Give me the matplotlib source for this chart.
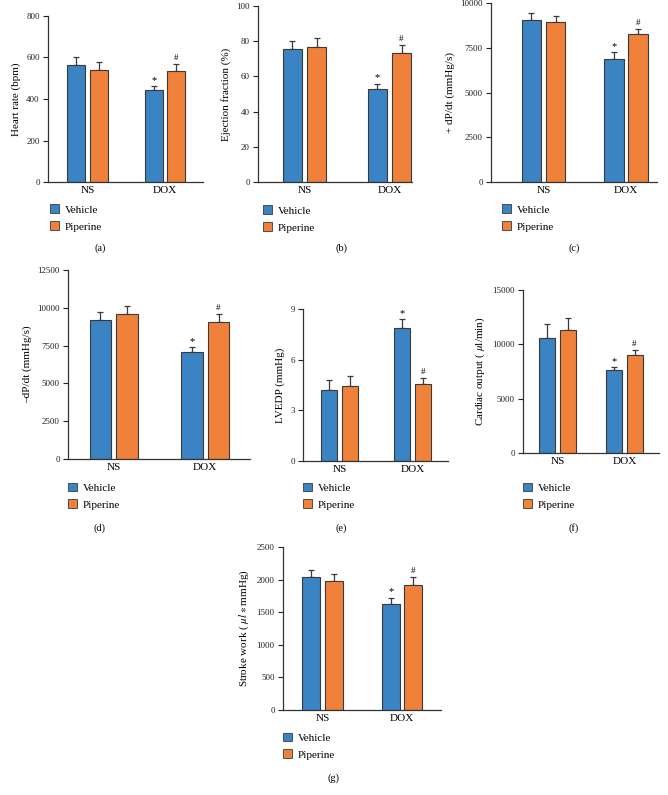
import numpy as np
import matplotlib
matplotlib.use("Agg")
import matplotlib.pyplot as plt
from matplotlib.patches import Patch

plt.rcParams['font.family'] = ['Liberation Serif', 'DejaVu Serif']
plt.rcParams['mathtext.fontset'] = 'stix'

W, H = 668, 795

groups = ['NS', 'DOX']
series = ['Vehicle', 'Piperine']
colors = ['#3a84c4', '#f0813b']
edge = '#3a3a3a'

# valores (media, error)
hr_veh = [562, 441]
hr_veh_err = [38, 21]
hr_pip = [542, 533]
hr_pip_err = [34, 37]

ef_veh = [75.8, 52.8]
ef_veh_err = [4.5, 2.9]
ef_pip = [76.9, 73.5]
ef_pip_err = [5.1, 4.2]

dpp_veh = [9050, 6870]
dpp_veh_err = [390, 390]
dpp_pip = [8940, 8280]
dpp_pip_err = [350, 260]

dpm_veh = [9220, 7090]
dpm_veh_err = [530, 290]
dpm_pip = [9570, 9070]
dpm_pip_err = [570, 510]

lv_veh = [4.18, 7.88]
lv_veh_err = [0.59, 0.51]
lv_pip = [4.42, 4.54]
lv_pip_err = [0.63, 0.35]

co_veh = [10590, 7680]
co_veh_err = [1290, 210]
co_pip = [11360, 9060]
co_pip_err = [1040, 400]

sw_veh = [2040, 1631]
sw_veh_err = [112, 92]
sw_pip = [1978, 1917]
sw_pip_err = [108, 118]

# (caja en px: izq, der, arriba, abajo), xlim, ancho barra, ticks, etiqueta
paneles = [
    dict(box=(48, 203, 16, 182), xlim=(-0.51, 1.49), w=0.23, ticks=np.arange(0, 801, 200),
         ylabel='Heart rate (bpm)', data=(hr_veh, hr_veh_err, hr_pip, hr_pip_err),
         leg=(50, 210), tag='(a)', tagpos=(100, 248)),
    dict(box=(258, 412, 6, 182), xlim=(-0.547, 1.265), w=0.224, ticks=np.arange(0, 101, 20),
         ylabel='Ejection fraction (%)', data=(ef_veh, ef_veh_err, ef_pip, ef_pip_err),
         leg=(263, 211), tag='(b)', tagpos=(341, 248)),
    dict(box=(491, 657, 3, 182), xlim=(-0.636, 1.376), w=0.236, ticks=np.arange(0, 10001, 2500),
         ylabel='+ dP/dt (mmHg/s)', data=(dpp_veh, dpp_veh_err, dpp_pip, dpp_pip_err),
         leg=(502, 210), tag='(c)', tagpos=(574, 248)),
    dict(box=(68, 250, 270, 459), xlim=(-0.5, 1.489), w=0.23, ticks=np.arange(0, 12501, 2500),
         ylabel='–dP/dt (mmHg/s)', data=(dpm_veh, dpm_veh_err, dpm_pip, dpm_pip_err),
         leg=(68, 488), tag='(d)', tagpos=(100, 528)),
    dict(box=(303, 448, 309, 461), xlim=(-0.5, 1.486), w=0.226, ticks=np.arange(0, 10, 3),
         ylabel='LVEDP (mmHg)', data=(lv_veh, lv_veh_err, lv_pip, lv_pip_err),
         leg=(303, 488), tag='(e)', tagpos=(341, 528)),
    dict(box=(523, 659, 290, 453), xlim=(-0.515, 1.515), w=0.24, ticks=np.arange(0, 15001, 5000),
         ylabel=r'Cardiac output ( $\mu$l/min)', data=(co_veh, co_veh_err, co_pip, co_pip_err),
         leg=(523, 488), tag='(f)', tagpos=(574, 528)),
    dict(box=(283, 441, 547, 710), xlim=(-0.497, 1.49), w=0.226, ticks=np.arange(0, 2501, 500),
         ylabel=r'Stroke work ( $\mu l\ast$mmHg)', data=(sw_veh, sw_veh_err, sw_pip, sw_pip_err),
         leg=(283, 738), tag='(g)', tagpos=(333, 778)),
]

fig = plt.figure(figsize=(W / 100, H / 100), dpi=100)

for p in paneles:
    l, r, t, b = p['box']
    ax = fig.add_axes([l / W, 1 - b / H, (r - l) / W, (b - t) / H])
    veh, veh_err, pip, pip_err = p['data']
    x = np.arange(len(groups))
    w = p['w']
    off = w / 2 + 0.03
    for xs, vals, errs, c in [(x - off, veh, veh_err, colors[0]), (x + off, pip, pip_err, colors[1])]:
        ax.bar(xs, vals, width=w, color=c, edgecolor=edge, linewidth=0.8, zorder=2)
        ax.errorbar(xs, vals, yerr=[np.zeros(len(errs)), errs], fmt='none', ecolor=edge,
                    elinewidth=0.9, capsize=2.2, capthick=0.9, zorder=1)
    # marcas de significancia sobre DOX
    ax.annotate('*', xy=(x[1] - off, veh[1] + veh_err[1]), xytext=(0, 1), textcoords='offset points',
                ha='center', va='bottom', fontsize=7.5)
    ax.annotate('#', xy=(x[1] + off, pip[1] + pip_err[1]), xytext=(0, 1.5), textcoords='offset points',
                ha='center', va='bottom', fontsize=6.5)
    ax.set_xlim(*p['xlim'])
    ax.set_ylim(p['ticks'][0], p['ticks'][-1])
    ax.set_yticks(p['ticks'])
    ax.set_xticks(x)
    ax.set_xticklabels(groups, fontsize=8)
    ax.tick_params(axis='x', length=0, pad=3)
    ax.tick_params(axis='y', length=3.5, width=0.8, labelsize=6.5, pad=2.5, colors='#222222')
    ax.set_ylabel(p['ylabel'], fontsize=8, labelpad=4)
    for s in ['top', 'right']:
        ax.spines[s].set_visible(False)
    for s in ['left', 'bottom']:
        ax.spines[s].set_color('#333333')
        ax.spines[s].set_linewidth(0.9)

    handles = [Patch(facecolor=colors[0], edgecolor=edge, linewidth=0.6),
               Patch(facecolor=colors[1], edgecolor=edge, linewidth=0.6)]
    lx, ly = p['leg']
    ax.legend(handles, series, loc='upper left', bbox_to_anchor=(lx / W, 1 - (ly - 5.5) / H),
              bbox_transform=fig.transFigure, frameon=False, fontsize=8, borderpad=0,
              borderaxespad=0, handlelength=0.85, handleheight=0.85, handletextpad=0.45,
              labelspacing=0.6)
    tx, ty = p['tagpos']
    fig.text(tx / W, 1 - ty / H, p['tag'], ha='center', va='center', fontsize=7.5)

fig.savefig('out.png', dpi=100)
